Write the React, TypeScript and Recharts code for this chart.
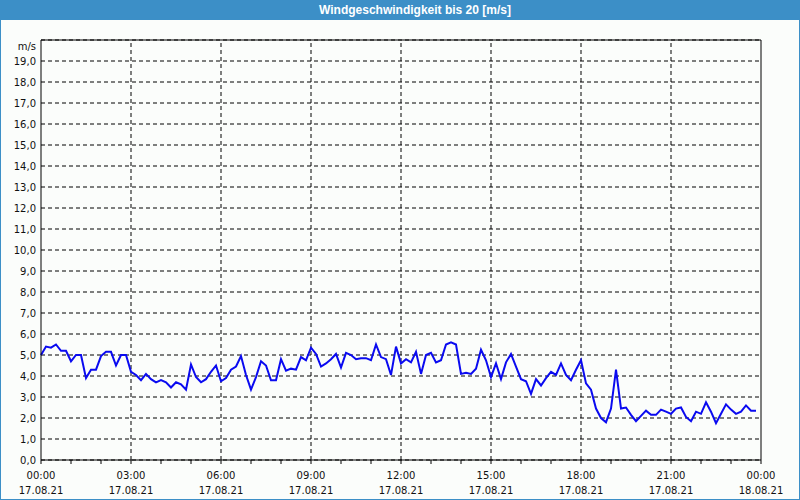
import React from 'react';
import { LineChart, Line, XAxis, YAxis, CartesianGrid, ReferenceLine } from 'recharts';

// wind speed in m/s, one reading every 10 minutes from 17.08.21 00:00
const SPEED = [
  5.0, 5.4, 5.35, 5.5, 5.2, 5.2, 4.7, 5.0, 5.0, 3.9, 4.3, 4.3,
  4.95, 5.15, 5.15, 4.5, 5.0, 5.0, 4.2, 4.05, 3.8, 4.1, 3.85, 3.7,
  3.8, 3.7, 3.45, 3.7, 3.6, 3.35, 4.55, 3.95, 3.7, 3.85, 4.2, 4.5,
  3.75, 3.9, 4.3, 4.45, 4.95, 4.05, 3.35, 3.95, 4.7, 4.5, 3.8, 3.8,
  4.8, 4.25, 4.35, 4.3, 4.9, 4.75, 5.35, 5.05, 4.45, 4.6, 4.8, 5.05,
  4.4, 5.1, 5.0, 4.8, 4.85, 4.85, 4.75, 5.5, 4.9, 4.8, 4.05, 5.4,
  4.6, 4.8, 4.65, 5.15, 4.1, 5.0, 5.1, 4.65, 4.75, 5.5, 5.6, 5.5,
  4.1, 4.15, 4.1, 4.35, 5.25, 4.75, 3.95, 4.6, 3.85, 4.65, 5.05, 4.45,
  3.85, 3.75, 3.15, 3.85, 3.55, 3.9, 4.2, 4.05, 4.6, 4.05, 3.8, 4.3,
  4.75, 3.65, 3.35, 2.45, 2.0, 1.8, 2.45, 4.3, 2.45, 2.5, 2.15, 1.85,
  2.1, 2.35, 2.15, 2.15, 2.4, 2.3, 2.2, 2.45, 2.5, 2.05, 1.85, 2.3,
  2.2, 2.75, 2.3, 1.75, 2.2, 2.65, 2.4, 2.2, 2.3, 2.6, 2.35, 2.35,
];
const STEP_MINUTES = 10;

const HOUR_TICKS = [0, 1, 2, 3, 4, 5, 6, 7, 8, 9, 10, 11, 12, 13, 14, 15, 16, 17, 18, 19, 20, 21, 22, 23, 24];
const MAJOR_HOURS = [0, 3, 6, 9, 12, 15, 18, 21, 24];
const TIME_LABELS = ['00:00', '03:00', '06:00', '09:00', '12:00', '15:00', '18:00', '21:00', '00:00'];
const DATE_LABELS = ['17.08.21', '17.08.21', '17.08.21', '17.08.21', '17.08.21', '17.08.21', '17.08.21', '17.08.21', '18.08.21'];
const Y_TICKS = [0, 1, 2, 3, 4, 5, 6, 7, 8, 9, 10, 11, 12, 13, 14, 15, 16, 17, 18, 19, 20];

const TITLE = 'Windgeschwindigkeit bis 20 [m/s]';
const BLUE = '#3c8fc7';
const FONT = '"DejaVu Sans", Tahoma, sans-serif';
const DASH = '4 3';

const data = SPEED.map((v, i) => ({ t: (i * STEP_MINUTES) / 60, v }));

const XTick = (props: any) => {
  const { x, y, payload } = props;
  const k = MAJOR_HOURS.indexOf(payload.value);
  return (
    <g>
      <line x1={x} x2={x} y1={y} y2={y + 4} stroke="#000" />
      {k >= 0 && (
        <>
          <text x={x} y={y + 19} textAnchor="middle" fontSize={10} fontFamily={FONT} fill="#111">
            {TIME_LABELS[k]}
          </text>
          <text x={x} y={y + 34} textAnchor="middle" fontSize={10} fontFamily={FONT} fill="#111">
            {DATE_LABELS[k]}
          </text>
        </>
      )}
    </g>
  );
};

const YTick = (props: any) => {
  const { x, y, payload } = props;
  const v = payload.value;
  const label = v === 20 ? 'm/s' : v.toFixed(1).replace('.', ',');
  return (
    <text x={x - 5} y={(v === 20 ? y + 6 : y) + 4} textAnchor="end" fontSize={10} fontFamily={FONT} fill="#111">
      {label}
    </text>
  );
};

export default function App() {
  return (
    <div style={{ position: 'absolute', top: 0, left: 0, width: 800, height: 500, background: '#fbfdfb' }}>
      <LineChart
        width={800}
        height={500}
        data={data}
        margin={{ top: 40, right: 39, bottom: 0, left: 0 }}
      >
        <CartesianGrid vertical={false} stroke="#000" strokeDasharray={DASH} />
        {MAJOR_HOURS.slice(1, -1).map((h) => (
          <ReferenceLine key={h} x={h} stroke="#000" strokeDasharray={DASH} />
        ))}
        <ReferenceLine y={20} stroke="#000" />
        <ReferenceLine x={24} stroke="#000" />
        <XAxis
          dataKey="t"
          type="number"
          domain={[0, 24]}
          ticks={HOUR_TICKS}
          interval={0}
          height={40}
          tickSize={0}
          tickMargin={0}
          tickLine={false}
          axisLine={{ stroke: '#000' }}
          tick={<XTick />}
        />
        <YAxis
          type="number"
          domain={[0, 20]}
          ticks={Y_TICKS}
          interval={0}
          width={41}
          tickSize={0}
          tickMargin={0}
          tickLine={false}
          axisLine={{ stroke: '#000' }}
          tick={<YTick />}
        />
        <Line
          type="linear"
          dataKey="v"
          stroke="#0a0af0"
          strokeWidth={2}
          dot={false}
          isAnimationActive={false}
        />
      </LineChart>
      <div
        style={{
          position: 'absolute',
          top: 0,
          left: 0,
          width: 800,
          height: 20,
          background: BLUE,
        }}
      >
        <svg width={800} height={20}>
          <text
            x={415}
            y={14}
            textAnchor="middle"
            fontSize={12}
            fontWeight="bold"
            fontFamily='"Liberation Sans", Arial, sans-serif'
            fill="#fff"
          >
            {TITLE}
          </text>
        </svg>
      </div>
      <div
        style={{
          position: 'absolute',
          top: 0,
          left: 0,
          width: 800,
          height: 500,
          boxSizing: 'border-box',
          border: `1px solid ${BLUE}`,
          pointerEvents: 'none',
        }}
      />
    </div>
  );
}
